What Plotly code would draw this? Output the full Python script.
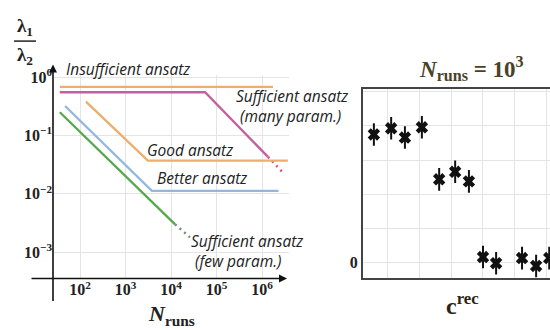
import plotly.graph_objects as go

W, H = 550, 330

# ---------------- data (left panel: lambda1/lambda2 vs N_runs) ----------------
insuff_x = [36, 1.74e6]
insuff_y = [0.68, 0.68]

many_x = [36, 5.6e4, 1.35e6]
many_y = [0.55, 0.55, 0.043]
many_dot_x = [1.35e6, 2.9e6]
many_dot_y = [0.043, 0.023]

good_x = [135, 3.1e3, 3.7e6]
good_y = [0.38, 0.037, 0.037]

better_x = [47, 3.8e3, 2.3e6]
better_y = [0.32, 0.0112, 0.0112]

few_x = [36, 1.23e4]
few_y = [0.25, 0.003]
few_dot_x = [1.23e4, 2.6e4]
few_dot_y = [0.003, 0.0018]

x_tickvals = [1e2, 1e3, 1e4, 1e5, 1e6]
x_ticktext = ["10<sup>2</sup>", "10<sup>3</sup>", "10<sup>4</sup>", "10<sup>5</sup>", "10<sup>6</sup>"]
y_tickvals = [1e0, 1e-1, 1e-2, 1e-3]
y_ticktext = ["10<sup>0</sup>", "10<sup>\u22121</sup>", "10<sup>\u22122</sup>", "10<sup>\u22123</sup>"]

# ---------------- data (right panel: c_rec, N_runs = 10^3) ----------------
crec_x = [0.59, 1.13, 1.56, 2.09, 2.63, 3.13, 3.56, 4.0, 4.41, 5.22, 5.66, 6.07]
crec_y = [3.75, 3.93, 3.66, 3.96, 2.44, 2.66, 2.38, 0.17, -0.01, 0.14, -0.09, 0.14]
crec_err = [0.33] * len(crec_x)
r_tickvals = [0]
r_ticktext = ["0"]
r_minor_y = [1, 2, 3, 4, 5]
r_xtickvals = [1, 2, 3, 4, 5, 6]

ORANGE = "#EDAE6C"
MAGENTA = "#C45F9E"
BLUE = "#92B8DF"
GREEN = "#55A84B"
TXT = "#222222"
GRID = "#E4E4E4"
SERIF = "Liberation Serif"
SANS = "Open Sans"


def px(x):
    return x / W


def py(y):
    return (H - y) / H


fig = go.Figure()

def line(xs, ys, color, dash=None, width=2.3):
    fig.add_trace(go.Scatter(x=xs, y=ys, mode="lines", xaxis="x", yaxis="y",
                             line=dict(color=color, width=width, dash=dash),
                             hoverinfo="skip", showlegend=False))

line(insuff_x, insuff_y, ORANGE)
line(many_x, many_y, MAGENTA)
line(many_dot_x, many_dot_y, "#E0507A", dash="2px,4px", width=2.5)
line(good_x, good_y, ORANGE)
line(better_x, better_y, BLUE)
line(few_x, few_y, GREEN)
line(few_dot_x, few_dot_y, "#7a8a7a", dash="2px,4px", width=2.5)

fig.add_trace(go.Scatter(
    x=crec_x, y=crec_y, mode="markers", xaxis="x2", yaxis="y2",
    marker=dict(symbol="x", size=11, color="#111"),
    error_y=dict(type="data", array=crec_err, color="#111", thickness=2, width=0),
    hoverinfo="skip", showlegend=False))

tickfont = dict(family=SERIF, size=16, color="#222", weight="bold")

fig.update_layout(
    width=W, height=H,
    margin=dict(l=0, r=0, t=0, b=0),
    paper_bgcolor="white", plot_bgcolor="white",
    xaxis=dict(type="log", domain=[px(53), px(289)], range=[1.4066, 6.593],
               tickvals=x_tickvals, ticktext=x_ticktext, tickfont=tickfont,
               showgrid=True, gridcolor=GRID, gridwidth=1, zeroline=False,
               showline=False, ticks="", anchor="y"),
    yaxis=dict(type="log", domain=[py(277), py(68)], range=[-3.45, 0.033],
               tickvals=y_tickvals, ticktext=y_ticktext, tickfont=tickfont,
               showgrid=True, gridcolor=GRID, gridwidth=1, zeroline=False,
               showline=False, ticks="", anchor="x"),
    xaxis2=dict(domain=[px(363), 1.0], range=[0.25, 6.094],
                tickvals=r_xtickvals, showticklabels=False,
                showgrid=True, gridcolor=GRID, zeroline=False,
                showline=True, linecolor="#444", linewidth=2, mirror=True,
                ticks="", anchor="y2"),
    yaxis2=dict(domain=[py(277), py(82)], range=[-0.4545, 5.085],
                tickvals=r_tickvals, ticktext=r_ticktext, tickfont=tickfont,
                showgrid=True, gridcolor=GRID, zeroline=False,
                minor=dict(tickvals=r_minor_y, showgrid=True, gridcolor=GRID, ticks=""),
                showline=True, linecolor="#444", linewidth=2, mirror=False,
                ticks="", anchor="x2"),
)

ann = []
# axis arrows for left panel
ann.append(dict(x=px(287), y=py(277), xref="paper", yref="paper", text="",
                showarrow=True, ax=-(287 - 30), ay=0, axref="pixel", ayref="pixel",
                arrowhead=2, arrowsize=1, arrowwidth=1.6, arrowcolor="#111"))
ann.append(dict(x=px(53), y=py(57), xref="paper", yref="paper", text="",
                showarrow=True, ax=0, ay=(295 - 57), axref="pixel", ayref="pixel",
                arrowhead=2, arrowsize=1, arrowwidth=1.6, arrowcolor="#111"))


def label(text, x, y, size=15.5, anchor="left", family=SANS, color=TXT, weight="normal"):
    ann.append(dict(x=px(x), y=py(y), xref="paper", yref="paper", text=text,
                    showarrow=False, xanchor=anchor, yanchor="middle", align="left",
                    font=dict(family=family, size=size, color=color, weight=weight)))

label("<i>Insufficient ansatz</i>", 64, 62)
label("<i>Sufficient ansatz</i><br><i> (many param.)</i>", 234, 100)
label("<i>Good ansatz</i>", 145, 145)
label("<i>Better ansatz</i>", 155, 174)
label("<i>Sufficient ansatz</i><br><i> (few param.)</i>", 189, 249)

# y-axis label lambda1 / lambda2
label("\u03bb<sub>1</sub>", 25, 19, size=19, anchor="center", family=SERIF, color="#222", weight="bold")
label("\u03bb<sub>2</sub>", 25, 48, size=19, anchor="center", family=SERIF, color="#222", weight="bold")
label("<i>N</i><sub>runs</sub>", 171, 315, size=22, anchor="center", family=SERIF, color="#222", weight="bold")
label("<i>N</i><sub>runs</sub> = 10<sup>3</sup>", 471, 61, size=23, anchor="center", family=SERIF, color="#4a4224", weight="bold")
label("<b>c</b><sup>rec</sup>", 462, 303, size=24, anchor="center", family=SERIF, color="#2a2410", weight="bold")

fig.update_layout(annotations=ann)
fig.add_shape(type="line", xref="paper", yref="paper", x0=px(14), x1=px(36), y0=py(33), y1=py(33),
              line=dict(color="#222", width=1.5))

fig.write_html("out.html")
